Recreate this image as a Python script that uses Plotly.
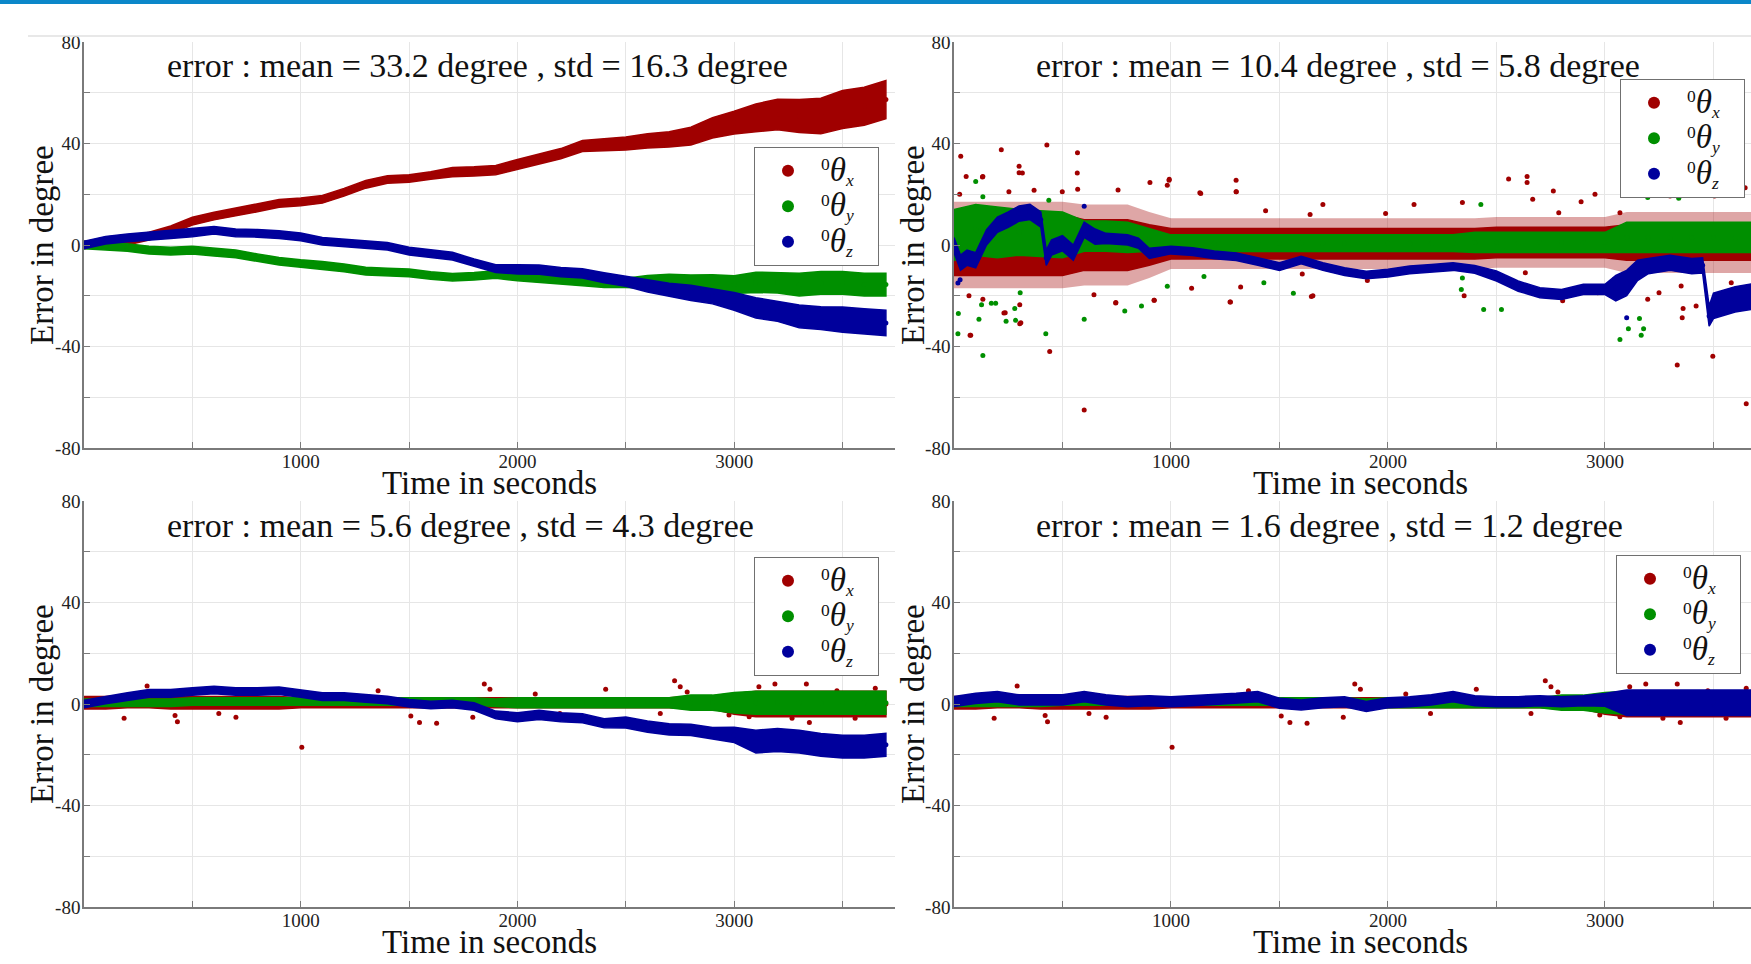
import plotly.graph_objects as go

# ---------------- data ----------------
T = [0, 100, 200, 300, 400, 500, 600, 700, 800, 900,
     1000, 1100, 1200, 1300, 1400, 1500, 1600, 1700, 1800, 1900,
     2000, 2100, 2200, 2300, 2400, 2500, 2600, 2700, 2800, 2900,
     3000, 3100, 3200, 3300, 3400, 3500, 3600, 3700]

TITLES = ["error : mean = 33.2 degree , std = 16.3 degree",
          "error : mean = 10.4 degree , std = 5.8 degree",
          "error : mean = 5.6 degree , std = 4.3 degree",
          "error : mean = 1.6 degree , std = 1.2 degree"]
X_MAJOR = [1000, 2000, 3000]
X_MAJOR_TEXT = ["1000", "2000", "3000"]
X_MINOR = [500, 1500, 2500, 3500]
Y_MAJOR = [-80, -40, 0, 40, 80]
Y_MAJOR_TEXT = ["-80", "-40", "0", "40", "80"]
Y_MINOR = [-60, -20, 20, 60]
SERIES_NAMES = [
    "<sup>0</sup><span style='font-size:33px'><i>θ</i></span><sub><i>x</i></sub>&nbsp;&nbsp;&nbsp;",
    "<sup>0</sup><span style='font-size:33px'><i>θ</i></span><sub><i>y</i></sub>&nbsp;&nbsp;&nbsp;",
    "<sup>0</sup><span style='font-size:33px'><i>θ</i></span><sub><i>z</i></sub>&nbsp;&nbsp;&nbsp;"]

# top-left: centre and half width of the dense band
TL_X_C = [0, 1, 1.5, 3.5, 6, 9.4, 11.4, 13, 14.6, 16.4,
          17, 18, 20.8, 23.9, 25.8, 26.2, 27.4, 28.7, 29, 29.5,
          31.7, 34, 36, 39, 39.4, 40, 41, 41.6, 42.9, 46.2,
          48.2, 50.1, 51.4, 50.8, 50.8, 53.4, 54.7, 57.3]
TL_X_W = [1.5, 1.5, 1.5, 1.5, 1.5, 1.5, 1.5, 1.5, 1.5, 1.5,
          1.5, 1.5, 1.5, 1.5, 1.5, 1.5, 1.5, 1.8, 1.8, 1.8,
          2, 2, 2, 2.2, 2.4, 2.6, 2.8, 3, 3.5, 4,
          4.5, 5.5, 6, 6.5, 7, 7.5, 7.5, 7.5]
TL_Y_C = [0, -0.5, -1, -2, -2.4, -2, -2.8, -3.5, -5, -6.4,
          -7.3, -8, -9, -10.3, -10.7, -11, -12, -12.7, -12.3, -11.6,
          -12.3, -12.9, -13.6, -14.3, -14.9, -14.9, -14.5, -14, -14.3, -14.7,
          -15.6, -14.7, -14.9, -15.6, -14.9, -14.9, -15.6, -15.6]
TL_Y_W = [1.5, 1.5, 1.5, 1.5, 1.5, 1.5, 1.5, 1.5, 1.5, 1.5,
          1.5, 1.5, 1.5, 1.5, 1.5, 1.5, 1.5, 1.5, 1.5, 1.5,
          1.8, 1.8, 1.8, 1.8, 1.8, 1.8, 2.5, 2.5, 2.5, 3,
          3.5, 4, 4, 4.5, 4.5, 4.5, 4.5, 4.5]
TL_Z_C = [0, 1.9, 2.8, 3.5, 4.1, 4.8, 5.8, 4.8, 4.6, 4.1,
          3.2, 1.5, 0.9, 0.2, -0.5, -2.4, -3.4, -4.4, -7, -9.3,
          -9.6, -9.7, -10.7, -11.2, -12.9, -14.3, -16, -17.6, -18.9, -20.2,
          -22.2, -24.8, -26.1, -28.1, -28.8, -29.4, -30.1, -30.7]
TL_Z_W = [1.5, 1.5, 1.5, 1.5, 1.5, 1.5, 1.5, 1.5, 1.5, 1.5,
          1.5, 1.5, 1.5, 1.5, 1.5, 1.5, 1.5, 1.5, 1.5, 1.5,
          1.8, 1.8, 1.8, 1.8, 2, 2, 2.5, 2.5, 3, 3,
          3.5, 4, 4, 4.5, 4.5, 5, 5, 5]

# top-right
TR_X_C = [0, 0, 0, 0, 0, 0, 0, 0, 0, 0,
          0.5, 0.5, 0.5, 0.5, 0.5, 0.5, 0.5, 0.5, 0.5, 0.5,
          0.5, 0.5, 0.5, 0.5, 0.5, 1, 1, 1, 1, 1,
          1, 1, 1, 1, 1, 1, 1, 1]
TR_X_W = [12, 12, 12, 12, 12, 12, 10, 10, 10, 8,
          6, 6, 6, 6, 6, 6, 6, 6, 6, 6,
          6, 6, 6, 6, 6, 6, 6, 6, 6, 6,
          6, 7, 7, 7, 7, 7, 7, 7]
TR_X_HALO = [17, 17, 17, 17, 17, 17, 16, 16, 16, 13,
             10, 10, 10, 10, 10, 10, 10, 10, 10, 10,
             10, 10, 10, 10, 10, 10, 10, 10, 10, 10,
             10, 12, 12, 12, 12, 12, 12, 12]
TR_X_OT = [31, 56, 77, 133, 133, 218, 236, 300, 300, 308,
           428, 441, 569, 570, 600, 746, 756, 903, 923, 992,
           1133, 1274, 1300, 1300, 1654, 2351, 2556, 2641, 2641, 2762,
           2805, 2954, 3197, 3333, 3356, 3360, 3420, 3497, 3651,
           131, 315, 568, 991, 983, 1301, 1137, 1700, 2120, 2343,
           1436, 1641, 1989, 26, 253, 369, 499, 69, 74, 230,
           303, 303, 745, 922, 1272, 1647, 1095, 1321, 645, 1905,
           1605, 2667, 2787, 2890, 3069, 3197, 3300, 3364, 3505, 3646,
           2967, 3044, 3249, 3351, 3582, 2633, 2479]
TR_X_OV = [35, 27, -35.6, 27, -21.4, 37.5, -26.7, 31, 28.5, -30.6,
           39.4, -42, 36.4, 22, -65, -22.7, 21.7, 24.6, -21.8, 25.9,
           20.6, -22.5, 25.5, 21, -20, -20, 26, 27, 24.6, 21.3,
           -22, 20, -21.4, -47.3, -28.7, -25, -24, -43.8, -62.6,
           26.8, 28.4, 28.4, 25.5, 23.5, 21, 20.3, 16, 16, 16.7,
           13.5, 12, 12.4, 20, 21, 21.6, 21, -20, -35.6, -26.8,
           -31, -23.5, -22.9, -21.8, -22.5, -20.3, -17, -16.6, -19.6, -14,
           -11.4, 18, 12.7, 17, 12.7, 20.6, 19.3, 21.3, 19.3, 22.6,
           -18.8, -13.5, -18.8, -16.2, -14.9, -10.9, -12.2]
TR_Y_C = [4, 6, 5, 5, 4.5, 4, 3.5, 3.5, 3, 2,
          0.7, 0.7, 0.7, 0.7, 0.7, 0.7, 0.7, 0.7, 0.7, 0.7,
          0.7, 0.7, 0.7, 0.7, 1, 1, 1, 1, 1, 1,
          1, 3, 3, 3, 3, 3, 3, 3]
TR_Y_W = [10, 10, 10, 9, 9, 9, 6, 6, 6, 4.5,
          3.3, 3.3, 3.3, 3.3, 3.3, 3.3, 3.3, 3.3, 3.3, 3.3,
          3.3, 3.3, 3.3, 3.3, 4, 4, 4, 4, 4, 4,
          4, 6, 6, 6, 6, 6, 6, 6]
TR_Y_OT = [18, 100, 115, 133, 133, 172, 240, 280, 305, 423,
           437, 600, 787, 864, 1428, 1564, 2338, 2428, 2441, 2523,
           3069, 3108, 3159, 3167, 3178, 3197, 3340,
           20, 284, 1152, 983, 127, 192, 2343]
TR_Y_OV = [-35, 25, -29.3, -43.5, 19, -23, -30, -25, -18.8, -35,
           17.6, -29.3, -26, -24, -14.9, -19, -17.5, 16, -25.4, -25.4,
           -37.2, -33, -29, -35.6, -33, 18.7, 18.4,
           -27, -29.7, -12.4, -16.3, -23.5, -23, -13]
TRZ_T = [0, 30, 60, 100, 150, 200, 250, 300, 350, 400,
         425, 450, 500, 550, 600, 650, 700, 800, 850, 900,
         1000, 1100, 1200, 1300, 1400, 1500, 1600, 1700, 1800, 1900,
         2000, 2100, 2200, 2300, 2400, 2500, 2600, 2700, 2800, 2900,
         3000, 3050, 3100, 3150, 3200, 3300, 3400, 3450, 3480, 3500,
         3600, 3700]
TR_Z_C = [0, -7, -5, -6, 3, 8, 10, 12.4, 13, 10,
          -5, -1, 0.7, -3, 6, 3.3, 2.6, 2, 0.7, -3.3,
          -2, -2.6, -3.9, -4.6, -6.5, -8.5, -5.9, -8.5, -10.5, -11.8,
          -11.1, -9.8, -9.2, -8.5, -9.6, -12.2, -16.2, -18.8, -19.5, -17.5,
          -17.5, -17, -15, -10, -8.3, -7, -8.3, -8, -28, -24,
          -21.4, -20]
TR_Z_W = [3, 3, 3, 3, 3, 3, 3, 3, 3, 3,
          3, 3, 3, 3, 3, 3, 2, 2, 2, 2,
          1.5, 1.5, 1.5, 1.5, 1.5, 1.5, 1.5, 1.5, 1.5, 1.5,
          1.5, 1.5, 1.5, 1.5, 1.5, 2, 2, 2, 2, 2,
          2, 5, 5, 4, 3, 3, 3, 3, 4, 5,
          5, 5]
TR_Z_OT = [18, 28, 600, 3100]
TR_Z_OV = [-15, -13.7, 15.3, -28.7]

# bottom (theta_x and theta_y are shared by both bottom panels)
B_X_C = [0.5, 0.5, 1, 1, 0.5, 0.5, 0.5, 0.5, 0.5, 0.5,
         0.5, 0.5, 0.5, 0.5, 0.5, 0.5, 0.5, 0.5, 0.5, 0.5,
         0.5, 0.5, 0.5, 0.5, 0.5, 0.5, 0.5, 0.5, 0.5, 0.5,
         0, 0, 0, 0, 0, 0, 0, 0]
B_X_W = [2.5, 2.5, 2.5, 2.5, 2.5, 2.5, 2.5, 2.5, 2.5, 2.5,
         2, 2, 2, 2, 2, 2, 2, 2, 2, 2,
         2, 2, 2, 2, 2, 2, 2, 2, 2.5, 2.5,
         4, 5, 5, 5, 5, 5, 5, 5]
B_X_OT = [185, 291, 420, 431, 622, 701, 1005, 1357, 1508, 1548,
          1627, 1794, 1847, 1873, 2082, 2196, 2407, 2659, 2725, 2751,
          2783, 2976, 3069, 3114, 3188, 3267, 3333, 3347, 3474, 3558, 3651]
B_X_OV = [-5.6, 7.1, -4.5, -7, -3.7, -5.2, -17, 5.2, -4.7, -7.3,
          -7.6, -5.2, 7.9, 5.8, 3.9, -3.7, 5.8, -3.7, 9.2, 6.8,
          4.7, -4.3, -5, 6.8, 7.9, -5.6, 7.9, -7.3, 5.2, -5.6, 6.2]
B_Y_C = [0.5, 0.5, 0.5, 0.5, 0.5, 1, 1, 1, 1, 1,
         1, 1, 1, 1, 1, 1, 1, 1, 1, 0.5,
         0.5, 0.5, 0.5, 0.5, 0.5, 0.5, 0.5, 0.5, 0.5, 0.5,
         0.5, 0.5, 0.5, 0.5, 0.5, 0.5, 0.5, 0.5]
B_Y_W = [1.5, 1.5, 1.5, 1.5, 1.5, 1.5, 1.5, 1.5, 1.5, 1.5,
         1.5, 1.5, 1.5, 1.5, 1.5, 1.5, 1.5, 1.5, 1.5, 1.5,
         2, 2, 2, 2, 2, 2, 2, 2, 3, 3,
         4, 4.5, 4.5, 4.5, 4.5, 4.5, 4.5, 4.5]
BL_Z_C = [0, 1.6, 2.9, 4.2, 4.2, 4.9, 5.5, 4.9, 4.9, 5.2,
          4.2, 2.9, 2.9, 2.2, 1.6, 0.3, -0.4, 0, -1, -4.3,
          -5.2, -4.3, -5.2, -5.6, -7.6, -7.3, -8.9, -10, -10.2, -11.5,
          -12.2, -14.8, -14.2, -14.8, -16.1, -16.8, -16.8, -16.1]
BL_Z_W = [1.5, 1.5, 1.5, 1.5, 1.5, 1.5, 1.5, 1.5, 1.5, 1.5,
          1.5, 1.5, 1.5, 1.5, 1.5, 1.5, 1.5, 1.5, 1.5, 1.5,
          1.8, 1.8, 1.8, 1.8, 1.8, 2.2, 2.2, 2.2, 2.2, 2.2,
          3, 4.5, 4.5, 4.5, 4.5, 4.5, 4.5, 4.5]
BR_Z_C = [1, 2.2, 2.9, 1.6, 1.6, 1.6, 2.9, 1.6, 0.9, 1.3,
          0.9, 1.3, 1.8, 2.2, 2.9, 0.3, -0.4, 0.5, 0.9, -1,
          0.5, 0.9, 1.6, 2.9, 1.3, 0.9, 0.9, 1.3, 0.9, 1.3,
          1.6, 0.5, 0.5, 0.5, 0.5, 0.5, 0.5, 0.5]
BR_Z_W = [2, 2, 2, 2, 2, 2, 2, 2, 2, 2,
          2, 2, 2, 2, 2, 2, 2, 2, 2, 2,
          2, 2, 2, 2, 2, 2, 2, 2, 2, 2,
          2.5, 5, 5, 5, 5, 5, 5, 5]

X_MAX_LEFT = 3742
X_MAX_RIGHT = 3673

# ---------------- styling ----------------
RED, GREEN, BLUE = "#a00000", "#008f00", "#00009c"
FONT = "Liberation Serif"
W_PX, H_PX = 1751, 964


def px_x(p):
    return p / W_PX


def px_y(p):
    return 1 - p / H_PX


DOMAINS_X = [[px_x(84), px_x(895)], [px_x(954), 1.0]]
DOMAINS_Y = [[px_y(448), px_y(42)], [px_y(907), px_y(501)]]

# series: (colour, t, centre, half width, halo half width, outlier t, outlier v)
panels = [
    (0, 0, X_MAX_LEFT, [
        (RED, T, TL_X_C, TL_X_W, None, [], []),
        (GREEN, T, TL_Y_C, TL_Y_W, None, [], []),
        (BLUE, T, TL_Z_C, TL_Z_W, None, [], []),
    ], "legend", (754, 147)),
    (1, 0, X_MAX_RIGHT, [
        (RED, T, TR_X_C, TR_X_W, TR_X_HALO, TR_X_OT, TR_X_OV),
        (GREEN, T, TR_Y_C, TR_Y_W, None, TR_Y_OT, TR_Y_OV),
        (BLUE, TRZ_T, TR_Z_C, TR_Z_W, None, TR_Z_OT, TR_Z_OV),
    ], "legend2", (1620, 79)),
    (0, 1, X_MAX_LEFT, [
        (RED, T, B_X_C, B_X_W, None, B_X_OT, B_X_OV),
        (GREEN, T, B_Y_C, B_Y_W, None, [], []),
        (BLUE, T, BL_Z_C, BL_Z_W, None, [], []),
    ], "legend3", (754, 557)),
    (1, 1, X_MAX_RIGHT, [
        (RED, T, B_X_C, B_X_W, None, B_X_OT, B_X_OV),
        (GREEN, T, B_Y_C, B_Y_W, None, [], []),
        (BLUE, T, BR_Z_C, BR_Z_W, None, [], []),
    ], "legend4", (1616, 555)),
]

fig = go.Figure()


def band_xy(t, c, w):
    up = [ci + wi for ci, wi in zip(c, w)]
    lo = [ci - wi for ci, wi in zip(c, w)]
    return list(t) + list(t)[::-1], up + lo[::-1]


layout = dict(
    width=W_PX, height=H_PX,
    margin=dict(l=0, r=0, t=0, b=0, pad=0, autoexpand=False),
    paper_bgcolor="white", plot_bgcolor="white",
    font=dict(family=FONT, color="#1a1a1a"),
    showlegend=True,
)

annotations = []
for i, (col, row, xmax, series, leg, (lx, ly)) in enumerate(panels):
    ax = "" if i == 0 else str(i + 1)
    xref, yref = "x" + ax, "y" + ax
    for k, (color, t, c, w, halo, ot, ov) in enumerate(series):
        if halo is not None:
            hx, hy = band_xy(t, c, halo)
            fig.add_trace(go.Scatter(x=hx, y=hy, mode="lines", fill="toself",
                                     fillcolor=color, opacity=0.35,
                                     line=dict(color=color, width=0),
                                     hoverinfo="skip", showlegend=False,
                                     xaxis=xref, yaxis=yref))
        bx, by = band_xy(t, c, w)
        fig.add_trace(go.Scatter(x=bx, y=by, mode="lines", fill="toself",
                                 fillcolor=color, line=dict(color=color, width=1.5),
                                 hoverinfo="skip", showlegend=False,
                                 xaxis=xref, yaxis=yref))
        fig.add_trace(go.Scatter(x=list(t) + ot, y=c + ov, mode="markers",
                                 marker=dict(color=color, size=5),
                                 name=SERIES_NAMES[k], legend=leg,
                                 xaxis=xref, yaxis=yref))
    axis_common = dict(showgrid=True, gridcolor="#e6e6e6", gridwidth=1,
                       showline=True, linecolor="#7a7a7a", linewidth=1.5,
                       ticks="inside", ticklen=6, tickcolor="#7a7a7a",
                       zeroline=False, mirror=False, automargin=False,
                       tickfont=dict(family=FONT, size=19, color="#222222"))
    layout["xaxis" + ax] = dict(domain=DOMAINS_X[col], range=[0, xmax],
                                tickmode="array", tickvals=X_MAJOR,
                                ticktext=X_MAJOR_TEXT,
                                minor=dict(tickmode="array", tickvals=X_MINOR,
                                           ticks="inside", ticklen=6,
                                           tickcolor="#7a7a7a", showgrid=True,
                                           gridcolor="#e6e6e6", gridwidth=1),
                                ticklabelstandoff=-5,
                                anchor=yref, **axis_common)
    layout["yaxis" + ax] = dict(domain=DOMAINS_Y[row], range=[-80, 80],
                                tickmode="array", tickvals=Y_MAJOR,
                                ticktext=Y_MAJOR_TEXT,
                                minor=dict(tickmode="array", tickvals=Y_MINOR,
                                           ticks="inside", ticklen=6,
                                           tickcolor="#7a7a7a", showgrid=True,
                                           gridcolor="#e6e6e6", gridwidth=1),
                                ticklabelstandoff=-2,
                                anchor=xref, **axis_common)
    layout[leg] = dict(x=px_x(lx), y=px_y(ly), xanchor="left", yanchor="top",
                       bgcolor="white", bordercolor="#707070", borderwidth=1,
                       font=dict(family=FONT, size=25, color="#111111"),
                       itemwidth=56, itemsizing="constant")
    annotations.append(dict(text=TITLES[i], xref="paper", yref="paper",
                            x=px_x(165 if col == 0 else 1034),
                            y=px_y(66 if row == 0 else 525),
                            xanchor="left", yanchor="middle", showarrow=False,
                            font=dict(family=FONT, size=34, color="#111111")))
    annotations.append(dict(text="Time in seconds", xref="paper", yref="paper",
                            x=px_x(490 if col == 0 else 1360),
                            y=px_y(483 if row == 0 else 942),
                            xanchor="center", yanchor="middle", showarrow=False,
                            font=dict(family=FONT, size=33, color="#111111")))
    annotations.append(dict(text="Error in degree", xref="paper", yref="paper",
                            x=px_x(42 if col == 0 else 913),
                            y=px_y(245 if row == 0 else 704),
                            xanchor="center", yanchor="middle", showarrow=False,
                            textangle=-90,
                            font=dict(family=FONT, size=33, color="#111111")))

layout["annotations"] = annotations
layout["shapes"] = [
    dict(type="rect", xref="paper", yref="paper", x0=0, x1=1,
         y0=px_y(4), y1=1, fillcolor="#0b87c9", line=dict(width=0), layer="above"),
    dict(type="line", xref="paper", yref="paper", x0=px_x(28), x1=1,
         y0=px_y(36), y1=px_y(36), line=dict(color="#e0e0e0", width=1.5)),
]
fig.update_layout(**layout)
fig.write_html(
    "out.html",
    config={"displayModeBar": False},
    post_script=("document.body.style.margin='0';"
                 "document.body.style.overflow='hidden';"
                 "var gd=document.getElementById('{plot_id}');"
                 "gd.style.position='fixed';gd.style.left='0px';gd.style.top='0px';"),
)
